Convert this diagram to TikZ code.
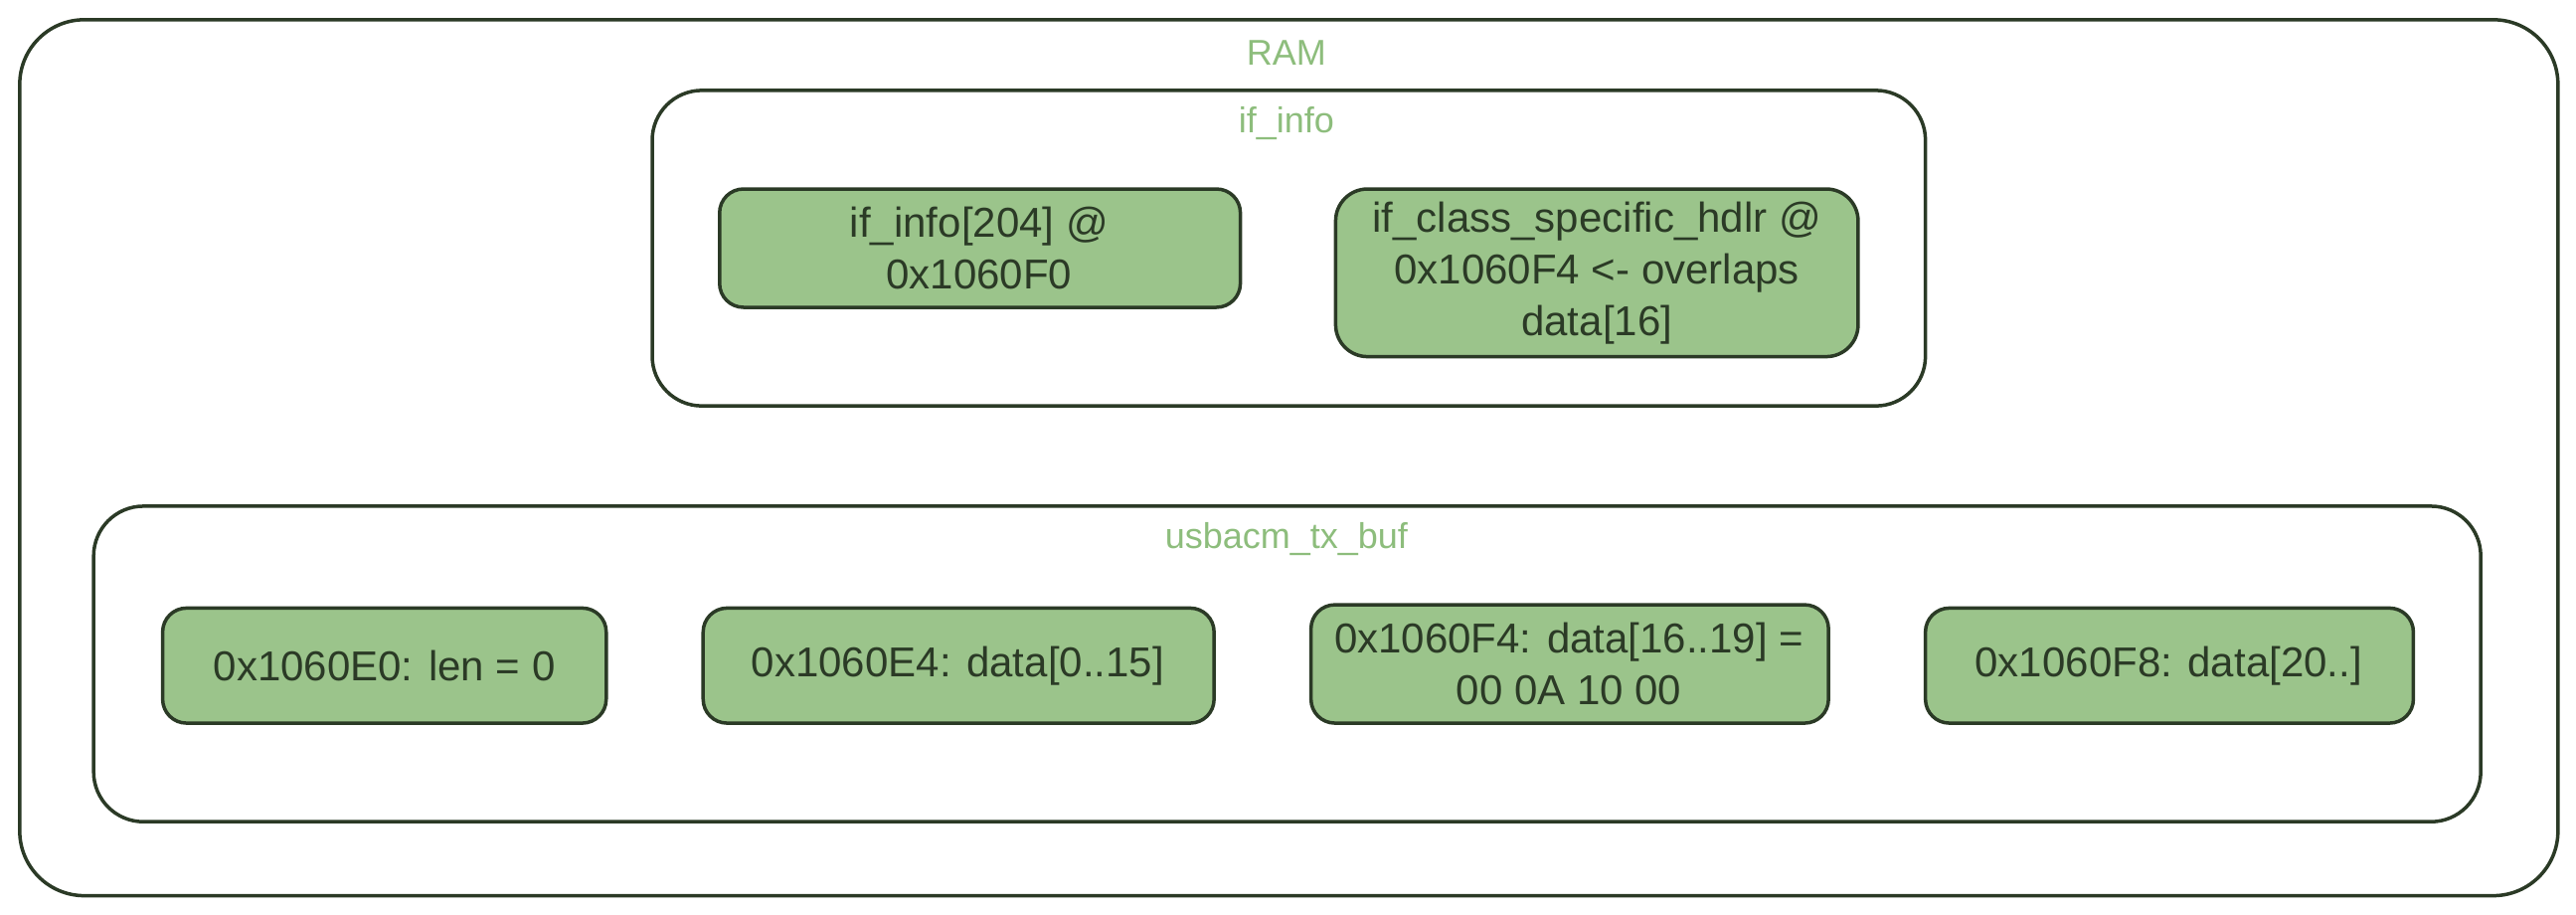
\documentclass[tikz,border=0pt]{standalone}
\usepackage{fontspec}
\setmainfont{Liberation Sans}
\definecolor{stroke}{HTML}{2B3A26}
\definecolor{gfill}{HTML}{9BC48B}
\definecolor{glabel}{HTML}{8DBD7C}
\begin{document}
\begin{tikzpicture}[x=1.6524pt,y=-1.6524pt,
  cont/.style={draw=stroke,line width=3.5pt},
  cell/.style={draw=stroke,line width=3.5pt,fill=gfill,rounded corners=24pt},
  lab/.style={text=glabel,font=\fontsize{36}{40}\selectfont},
  txt/.style={text=stroke,font=\fontsize{42}{52}\selectfont,align=center}]
\useasboundingbox (0,0) rectangle (1568,556.2);
\draw[cont,rounded corners=65pt] (12,12) rectangle (1557,545);
\node[lab] (ram) at (783,32) {RAM};
\draw[cont,rounded corners=50pt] (397,55) rectangle (1172,247);
\node[lab] (ifi) at (783,75) {if\_info};
\draw[cell] (438,115) rectangle (755,187);
\node[txt] (a) at (596,151) {if\_info[204] @\\0x1060F0};
\draw[cell,rounded corners=32pt] (813,115) rectangle (1131,217);
\node[txt] (b) at (972,166) {if\_class\_specific\_hdlr @\\0x1060F4 <- overlaps\\data[16]};
\draw[cont,rounded corners=50pt] (57,308) rectangle (1510,500);
\node[lab] (usb) at (783,328) {usbacm\_tx\_buf};
\draw[cell] (99,370) rectangle (369,440);
\node[txt] (c) at (234,405) {0x1060E0: len = 0};
\draw[cell] (428,370) rectangle (739,440);
\node[txt] (d) at (583,405) {0x1060E4: data[0..15]};
\draw[cell] (798,368) rectangle (1113,440);
\node[txt] (e) at (955,404) {0x1060F4: data[16..19] =\\00 0A 10 00};
\draw[cell] (1172,370) rectangle (1469,440);
\node[txt] (f) at (1320,405) {0x1060F8: data[20..]};
\end{tikzpicture}
\end{document}
